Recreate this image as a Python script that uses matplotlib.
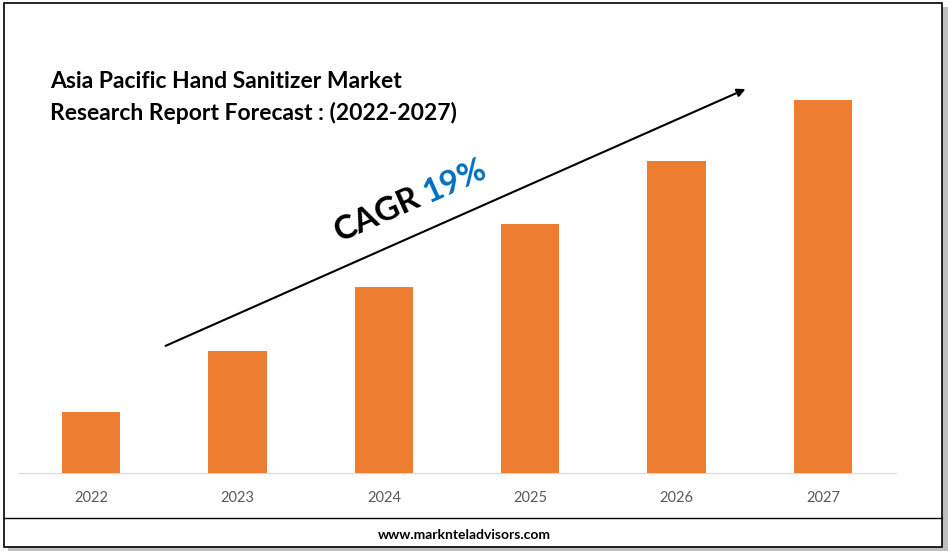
import matplotlib
matplotlib.use("Agg")
import matplotlib.pyplot as plt
from matplotlib.patches import Rectangle, FancyArrowPatch

years = ["2022", "2023", "2024", "2025", "2026", "2027"]
values = [1.0, 2.0, 3.05, 4.07, 5.1, 6.1]
title_lines = ["Asia Pacific Hand Sanitizer Market", "Research Report Forecast : (2022-2027)"]
cagr = "19%"

plt.rcParams["font.family"] = "Lato"
W, H = 950, 553
fig = plt.figure(figsize=(W/100, H/100), dpi=100)
def fx(x): return x / W
def fy(y): return 1 - y / H

# frame with shadow
fig.patches.append(Rectangle((fx(8), fy(551)), fx(940), fy(7) - fy(551), transform=fig.transFigure,
                             facecolor="#bfbfbf", edgecolor="none", zorder=0))
fig.patches.append(Rectangle((fx(4), fy(547)), fx(938), fy(3) - fy(547), transform=fig.transFigure,
                             facecolor="white", edgecolor="black", lw=1.2, zorder=1))

ax = fig.add_axes([fx(18), fy(473), fx(878), fy(20) - fy(473)])
ax.set_zorder(3)
ax.patch.set_alpha(0)
ax.bar(range(len(years)), values, width=0.4, color="#ED7D31", zorder=3)
ax.set_xlim(-0.5, len(years) - 0.5)
ax.set_ylim(0, max(values) * (453 / 373))
ax.set_xticks(range(len(years)))
ax.set_xticklabels(years, fontsize=10.5, color="#595959")
ax.tick_params(axis="x", length=0, pad=13)
ax.set_yticks([])
for s in ["top", "right", "left"]:
    ax.spines[s].set_visible(False)
ax.spines["bottom"].set_color("#d9d9d9")

fig.text(fx(50), fy(81), title_lines[0], fontsize=16.5, fontweight="bold", va="center", ha="left", zorder=5)
fig.text(fx(50), fy(113), title_lines[1], fontsize=16.5, fontweight="bold", va="center", ha="left", zorder=5)

fig.patches.append(FancyArrowPatch((fx(163), fy(347)), (fx(748), fy(88)), transform=fig.transFigure,
                                   arrowstyle="-|>", mutation_scale=12, color="black", lw=1.5, zorder=5))
fig.text(fx(340), fy(242), "CAGR", fontsize=24, fontweight="bold", rotation=24,
         rotation_mode="anchor", ha="left", va="baseline", zorder=5)
fig.text(fx(429), fy(203), cagr, fontsize=24, fontweight="bold", color="#0070C0", rotation=24,
         rotation_mode="anchor", ha="left", va="baseline", zorder=5)

fig.lines.append(plt.Line2D([fx(4), fx(942)], [fy(518), fy(518)], transform=fig.transFigure, color="black", lw=1, zorder=5))
fig.text(fx(464), fy(535), "www.marknteladvisors.com", fontsize=10, fontweight="bold", ha="center", va="center", zorder=5)

fig.savefig("out.png", dpi=100)
